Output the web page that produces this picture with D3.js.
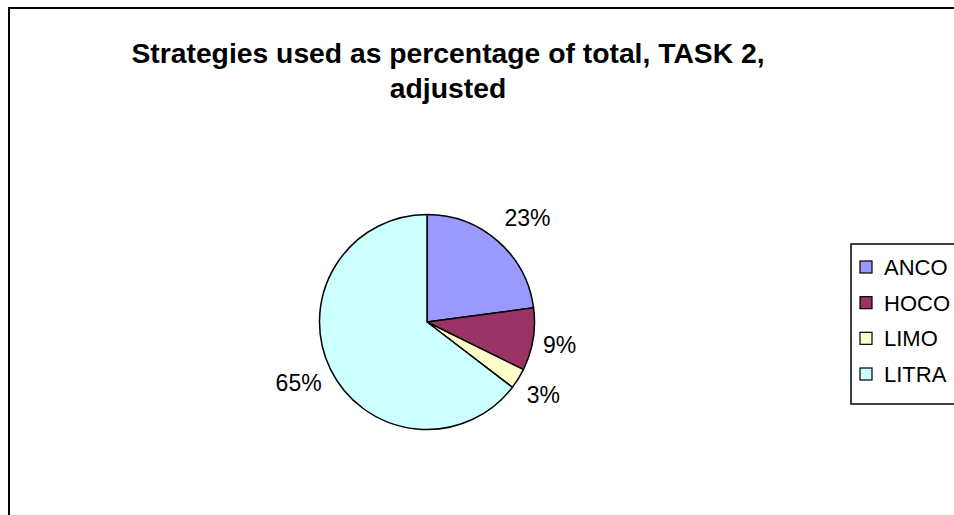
<!DOCTYPE html>
<html>
<head>
<meta charset="utf-8">
<script src="https://cdn.jsdelivr.net/npm/d3@7/dist/d3.min.js"></script>
<style>
  html, body { margin: 0; padding: 0; background: #fff; }
  svg { display: block; font-family: "Liberation Sans", Arial, sans-serif; }
</style>
</head>
<body>
<svg id="chart" width="954" height="515"></svg>
<script>
const categories = ["ANCO", "HOCO", "LIMO", "LITRA"];
const values = [22.9, 9.4, 3.1, 64.6];
const colors = ["#9999FF", "#993366", "#FFFFCC", "#CCFFFF"];
const titleLines = ["Strategies used as percentage of total, TASK 2,", "adjusted"];

const W = 954, H = 515;
const svg = d3.select("#chart");

// chart area border (extends past the right and bottom edges)
svg.append("rect")
  .attr("x", 9).attr("y", 8)
  .attr("width", W + 20).attr("height", H + 20)
  .attr("fill", "#fff").attr("stroke", "#000").attr("stroke-width", 2);

// title
const title = svg.append("text")
  .attr("text-anchor", "middle")
  .attr("font-weight", "bold")
  .attr("font-size", 28.3)
  .attr("fill", "#000");
titleLines.forEach((t, i) => {
  title.append("tspan").attr("x", 448).attr("y", 63 + i * 35).text(t);
});

// pie
const cx = 427, cy = 322, r = 107.5;
const pie = d3.pie().sort(null).value(d => d)(values);
const arc = d3.arc().innerRadius(0).outerRadius(r);
const total = d3.sum(values);

const g = svg.append("g").attr("transform", `translate(${cx},${cy})`);
g.selectAll("path.slice")
  .data(pie)
  .join("path")
  .attr("class", "slice")
  .attr("d", arc)
  .attr("fill", (d, i) => colors[i])
  .attr("stroke", "#000")
  .attr("stroke-width", 1.5)
  .attr("stroke-linejoin", "round");

// labels
const labelSize = 23;
g.selectAll("text.lbl")
  .data(pie)
  .join("text")
  .attr("class", "lbl")
  .attr("font-size", labelSize)
  .attr("fill", "#000")
  .attr("text-anchor", "middle")
  .attr("dominant-baseline", "central")
  .text(d => Math.round(d.value / total * 100) + "%")
  .each(function(d) {
    const a = (d.startAngle + d.endAngle) / 2;
    const ux = Math.sin(a), uy = -Math.cos(a);
    const bb = this.getBBox();
    const x = (r + 10) * ux + bb.width / 2 * Math.sign(ux);
    const y = (r + 14) * uy + bb.height / 2 * uy * 1.3;
    d3.select(this).attr("x", x).attr("y", y);
  });

// legend
const lgX = 851, lgY = 244, lgH = 160;
svg.append("rect")
  .attr("x", lgX).attr("y", lgY)
  .attr("width", 200).attr("height", lgH)
  .attr("fill", "#fff").attr("stroke", "#000").attr("stroke-width", 1.5);

const y = d3.scalePoint().domain(categories).range([lgY + 23, lgY + 130]);
const items = svg.selectAll("g.leg")
  .data(categories)
  .join("g")
  .attr("class", "leg")
  .attr("transform", d => `translate(${lgX}, ${y(d)})`);
items.append("rect")
  .attr("x", 9).attr("y", -6)
  .attr("width", 12).attr("height", 12)
  .attr("fill", (d, i) => colors[i])
  .attr("stroke", "#000").attr("stroke-width", 1.2);
items.append("text")
  .attr("x", 33)
  .attr("dy", "0.36em")
  .attr("font-size", 22)
  .attr("fill", "#000")
  .text(d => d);
</script>
</body>
</html>
